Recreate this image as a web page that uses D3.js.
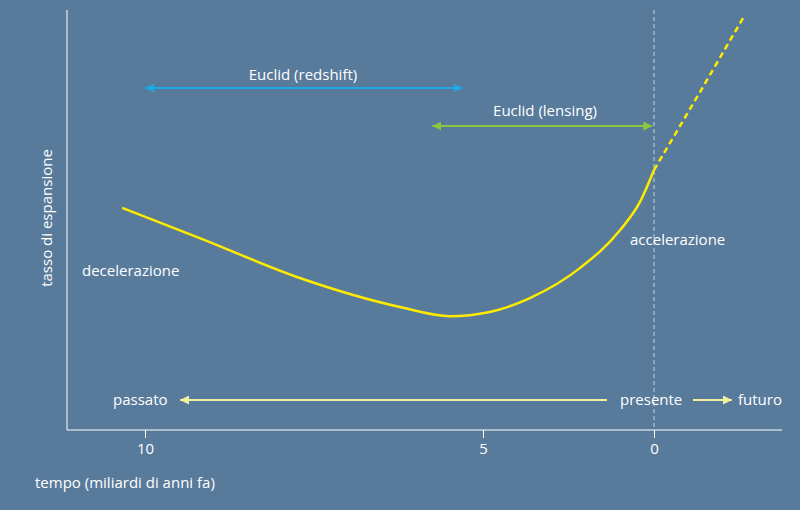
<!DOCTYPE html><html><head><meta charset="utf-8">
<script src="https://cdn.jsdelivr.net/npm/d3@7"></script>
<style>body{margin:0;background:#587a9b}text{font-family:"Open Sans",sans-serif;fill:#fff;font-size:15px}</style></head><body>
<svg id="c" width="800" height="510"></svg>
<script>
const xTicks=[10,5,0];
const curveT=[10.38,9.19,7.71,6.23,5.49,4.80,3.63,2.16,0.99,0.41,0];
const curveV=[52.9,45.7,36.2,29.3,27.1,28.1,31.4,38.6,47.6,54.3,61.9];
const futureT=[0,-1.35,-2.66];
const futureV=[61.9,80.5,98.8];
const svg=d3.select("#c");
const x=d3.scaleLinear().domain([11.3,10,5,0,-3.75]).range([67,145,483,654,782]);
const y=d3.scaleLinear().domain([0,100]).range([430,10]);
const line=d3.line().x(d=>x(d[0])).y(d=>y(d[1])).curve(d3.curveMonotoneX);
const defs=svg.append("defs");
function mk(id,c){const m=defs.append("marker").attr("id",id).attr("viewBox","0 0 10 10").attr("refX",10).attr("refY",5).attr("markerWidth",4.5).attr("markerHeight",4.5).attr("orient","auto-start-reverse");m.append("path").attr("d","M0,0L10,5L0,10z").attr("fill",c);}
mk("b","#1fa8e2");mk("g","#8dc63f");mk("y","#f2f0a0");
svg.append("line").attr("x1",67).attr("x2",67).attr("y1",10).attr("y2",430).attr("stroke","#fff");
const ax=svg.append("g").attr("transform","translate(0,430)").call(d3.axisBottom(x).tickValues(xTicks).tickSize(8).tickPadding(5).tickFormat(d3.format("d")));
ax.select(".domain").attr("stroke","#fff").attr("d","M67,0H782");
ax.selectAll(".tick line").attr("stroke","#fff");
ax.selectAll("text").attr("fill","#fff").style("font-size","15px").attr("font-family","Open Sans");
svg.append("line").attr("x1",x(0)).attr("x2",x(0)).attr("y1",10).attr("y2",430).attr("stroke","#c9d3dd").attr("stroke-dasharray","4,3");
svg.append("path").attr("d",line(curveT.map((t,i)=>[x(t),curveV[i]]).map(d=>[x.invert(d[0]),d[1]]))).attr("fill","none").attr("stroke","#ffeb00").attr("stroke-width",2.5);
svg.append("path").attr("d",d3.line().x(d=>x(d[0])).y(d=>y(d[1]))(futureT.map((t,i)=>[t,futureV[i]]))).attr("fill","none").attr("stroke","#ffeb00").attr("stroke-width",2.5).attr("stroke-dasharray","6,4");
function arr(x1,x2,yy,c,m,both){const l=svg.append("line").attr("x1",x1).attr("x2",x2).attr("y1",yy).attr("y2",yy).attr("stroke",c).attr("stroke-width",2).attr("marker-end","url(#"+m+")");if(both)l.attr("marker-start","url(#"+m+")");}
arr(x(10),x(5.3),88,"#1fa8e2","b",true);
arr(x(5.75),x(0.05),126,"#8dc63f","g",true);
arr(607,180,400,"#f2f0a0","y",false);
arr(693,732,400,"#f2f0a0","y",false);
svg.append("text").attr("x",303).attr("y",80).attr("text-anchor","middle").text("Euclid (redshift)");
svg.append("text").attr("x",545).attr("y",116).attr("text-anchor","middle").text("Euclid (lensing)");
svg.append("text").attr("x",82).attr("y",276).text("decelerazione");
svg.append("text").attr("x",630).attr("y",245).text("accelerazione");
svg.append("text").attr("x",113).attr("y",405).text("passato");
svg.append("text").attr("x",620).attr("y",405).text("presente");
svg.append("text").attr("x",738).attr("y",405).text("futuro");
svg.append("text").attr("x",35).attr("y",488).text("tempo (miliardi di anni fa)");
svg.append("text").attr("transform","translate(52,218) rotate(-90)").attr("text-anchor","middle").text("tasso di espansione");
</script></body></html>
